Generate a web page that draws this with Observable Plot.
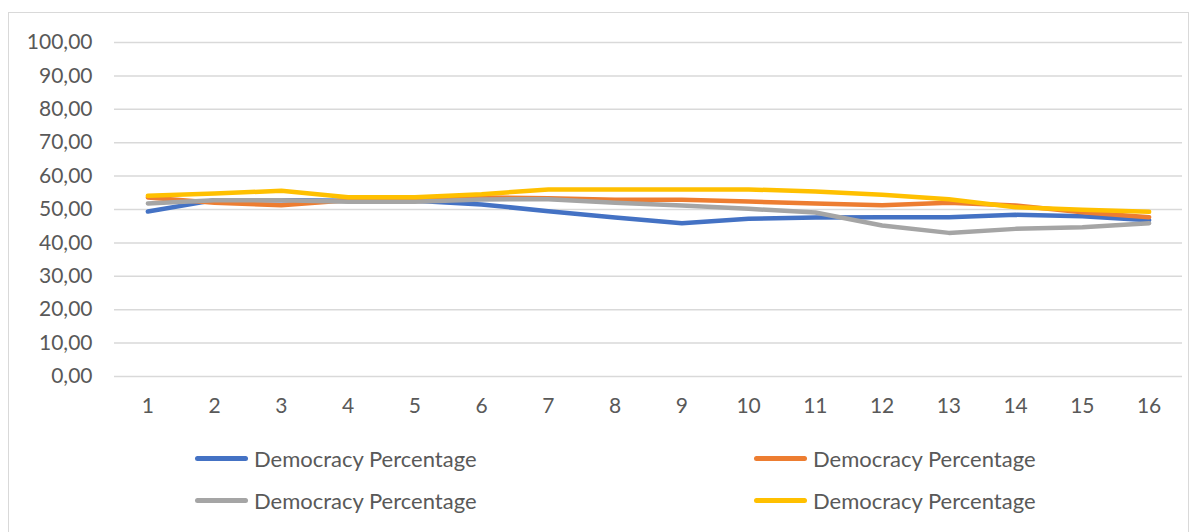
<!DOCTYPE html>
<html>
<head>
<meta charset="utf-8">
<script src="https://cdn.jsdelivr.net/npm/d3@7"></script>
<script src="https://cdn.jsdelivr.net/npm/@observablehq/plot@0.6"></script>
<style>
  html, body { margin: 0; padding: 0; background: #fff; }
  body { width: 1198px; height: 532px; position: relative; overflow: hidden; font-family: Lato, "Liberation Sans", sans-serif; }
  #frame { position: absolute; left: 8px; top: 12px; width: 1181px; height: 530px; border: 1.5px solid #d9d9d9; box-sizing: border-box; }
  #chart { position: absolute; left: 0; top: 0; }
  .leg { position: absolute; display: flex; align-items: center; font-size: 22px; color: #595959; }
  .leg .sw { width: 53px; height: 5px; border-radius: 3px; margin-right: 6px; }
</style>
</head>
<body>
<div id="frame"></div>
<div id="chart"></div>
<div id="legend"></div>
<script>
const periods = [1, 2, 3, 4, 5, 6, 7, 8, 9, 10, 11, 12, 13, 14, 15, 16];
const seriesNames = ["Democracy Percentage", "Democracy Percentage", "Democracy Percentage", "Democracy Percentage"];
const seriesColors = ["#4472C4", "#ED7D31", "#A5A5A5", "#FFC000"];
const blueValues   = [49.4, 52.8, 52.8, 52.6, 52.6, 51.5, 49.5, 47.6, 45.9, 47.2, 47.6, 47.7, 47.7, 48.4, 48.0, 46.8];
const orangeValues = [53.6, 52.0, 51.3, 52.8, 52.8, 53.6, 53.4, 52.9, 52.9, 52.4, 51.8, 51.3, 52.0, 51.2, 49.2, 47.7];
const grayValues   = [51.8, 52.8, 52.8, 52.3, 52.3, 53.0, 53.1, 52.0, 51.2, 50.2, 49.1, 45.2, 43.0, 44.2, 44.7, 45.9];
const yellowValues = [54.1, 54.8, 55.6, 53.7, 53.7, 54.6, 56.0, 56.0, 56.0, 56.0, 55.4, 54.4, 53.1, 50.7, 49.9, 49.3];
const yTicks = [0, 10, 20, 30, 40, 50, 60, 70, 80, 90, 100];

const allSeries = [blueValues, orangeValues, grayValues, yellowValues];
const data = [];
allSeries.forEach((vals, si) => {
  vals.forEach((v, i) => data.push({ series: "s" + si, period: periods[i], value: v }));
});

const fmt = v => d3.format(".2f")(v).replace(".", ",");

const plot = Plot.plot({
  width: 1198,
  height: 430,
  marginLeft: 114,
  marginRight: 16,
  marginTop: 42,
  marginBottom: 54,
  style: { fontFamily: "Lato, 'Liberation Sans', sans-serif", fontSize: "21px", color: "#595959", background: "transparent" },
  x: { type: "linear", domain: [0.5, 16.5], label: null },
  y: { domain: [0, 100], label: null },
  color: { domain: ["s0", "s1", "s2", "s3"], range: seriesColors },
  marks: [
    Plot.ruleY(yTicks, { stroke: "#d9d9d9", strokeWidth: 1.5 }),
    Plot.axisY({ ticks: yTicks, tickFormat: fmt, tickSize: 0, tickPadding: 22, label: null, fill: "#595959" }),
    Plot.axisX({ ticks: periods, tickFormat: d => String(d), tickSize: 0, tickPadding: 22, label: null, fill: "#595959" }),
    Plot.line(data, { x: "period", y: "value", z: "series", stroke: "series", strokeWidth: 4.5, strokeLinejoin: "round", strokeLinecap: "round" })
  ]
});
document.getElementById("chart").appendChild(plot);

const legendPos = [
  { left: 195, top: 459 },
  { left: 754, top: 459 },
  { left: 195, top: 501 },
  { left: 754, top: 501 }
];
const legend = document.getElementById("legend");
seriesNames.forEach((name, i) => {
  const el = document.createElement("div");
  el.className = "leg";
  el.style.left = legendPos[i].left + "px";
  el.style.top = (legendPos[i].top - 15) + "px";
  el.style.height = "28px";
  const sw = document.createElement("div");
  sw.className = "sw";
  sw.style.background = seriesColors[i];
  const tx = document.createElement("span");
  tx.textContent = name;
  el.appendChild(sw);
  el.appendChild(tx);
  legend.appendChild(el);
});
</script>
</body>
</html>
